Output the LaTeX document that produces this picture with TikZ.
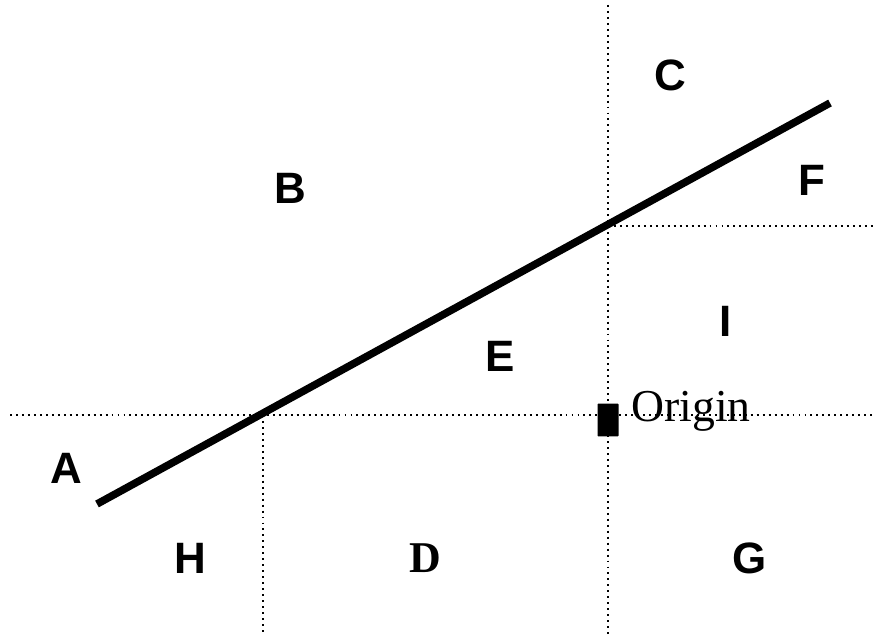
\documentclass[tikz,border=0pt]{standalone}
\usepackage{fontspec}
\setmainfont{Liberation Serif}
\setsansfont{Liberation Sans}
\usetikzlibrary{positioning}

\begin{document}
\begin{tikzpicture}[x=0.02cm,y=-0.02cm,every node/.style={font=\sffamily\bfseries\fontsize{25}{30}\selectfont}]
    \tikzstyle{grid}=[line width=1.1pt,dash pattern=on 1.1pt off 2.3pt];
    \tikzstyle{road}=[line width=4.3pt];
    \tikzstyle{originbox}=[fill=black,draw=none,inner sep=0pt,minimum width=0.42cm,minimum height=0.66cm,rounded corners=0.5pt];
    \useasboundingbox (0,0) rectangle (875,634);

    % end points of the lines
    \coordinate (west) at (10,415);
    \coordinate (east) at (875,415);
    \coordinate (top)  at (608,5);
    \coordinate (bot)  at (608,634);
    \coordinate (hx)   at (263,415);
    \coordinate (hb)   at (263,634);
    \coordinate (fx)   at (608,226);
    \coordinate (fe)   at (875,226);
    \coordinate (lo)   at (97,504);
    \coordinate (hi)   at (830,103);

    \draw[grid] (west) -- (east);
    \draw[grid] (top) -- (bot);
    \draw[grid] (hx) -- (hb);
    \draw[grid] (fx) -- (fe);
    \draw[road] (lo) -- (hi);

    \node[originbox] (origin) at (608,420) {};
    \node[anchor=base west,inner sep=0pt,font=\rmfamily\fontsize{26}{30}\selectfont] (olab) at (631,421) {Origin};

    \node (a) at (66,468)  {A};
    \node (b) at (290,188) {B};
    \node (c) at (670,75)  {C};
    \node (e) at (500,356) {E};
    \node (f) at (812,180) {F};
    \node (i) at (726,321) {I};
    \node (h) at (190,558) {H};
    \node[font=\rmfamily\bfseries\fontsize{25}{30}\selectfont] (d) at (425,558) {D};
    \node (g) at (750,558) {G};
\end{tikzpicture}
\end{document}
